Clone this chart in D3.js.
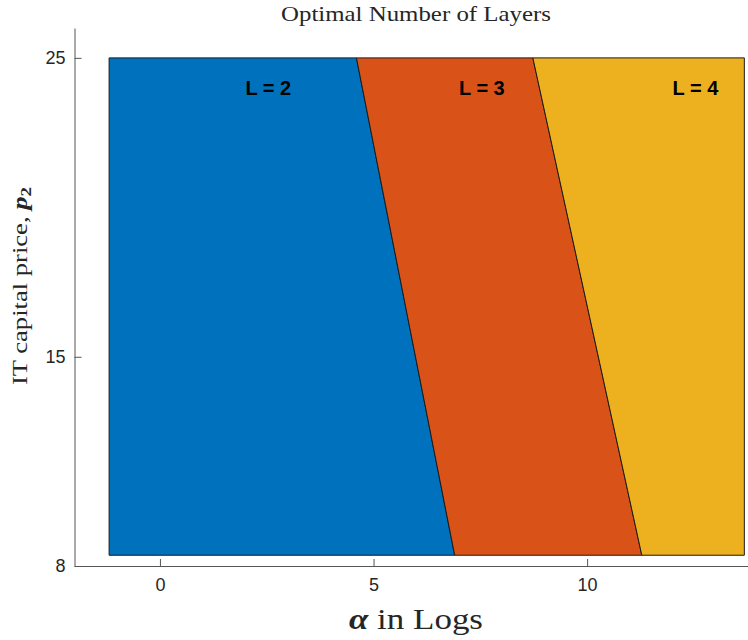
<!DOCTYPE html>
<html>
<head>
<meta charset="utf-8">
<script src="https://cdn.jsdelivr.net/npm/d3@7"></script>
<style>
  body { margin: 0; background: #fff; }
  .tick text { font-family: "Liberation Sans", Arial, sans-serif; font-size: 18px; fill: #262626; }
  .serif { font-family: "Liberation Serif", "Times New Roman", serif; fill: #262626; }
</style>
</head>
<body>
<svg id="board" width="748" height="640"></svg>
<script>
// regions of optimal layer count
let regionLabels = ['L = 2', 'L = 3', 'L = 4']
let regionColors = ['#0072BD', '#D95319', '#EDB120']

// grid extent (alpha in logs, price p2)
let alphaRange = [-1.19, 13.68]
let priceRange = [8.36, 25]

// boundaries between regions: alpha at top (p2 = 25) and bottom (p2 = 8.36)
let boundaryTop = [4.6, 8.73]
let boundaryBottom = [6.9, 11.28]

// label anchors
let labelAlpha = [2, 7, 12]
let labelPrice = 24

let xTicks = [0, 5, 10]
let yTicks = [8, 15, 25]

let board = d3.select('#board')

let x = d3.scaleLinear().domain([-2, 14]).range([74.5, 758])
let y = d3.scaleLinear().domain([8, 26]).range([566, 28])

// build region polygons from the boundary lists
let lefts = [[alphaRange[0], alphaRange[0]]].concat(boundaryTop.map((t, i) => [t, boundaryBottom[i]]))
let rights = boundaryTop.map((t, i) => [t, boundaryBottom[i]]).concat([[alphaRange[1], alphaRange[1]]])

let regions = regionLabels.map((label, i) => {
    return [
        [lefts[i][1], priceRange[0]],
        [lefts[i][0], priceRange[1]],
        [rights[i][0], priceRange[1]],
        [rights[i][1], priceRange[0]]
    ]
})

board.selectAll('polygon.region')
    .data(regions)
    .enter()
    .append('polygon')
    .attr('class', 'region')
    .attr('points', (d) => d.map((p) => x(p[0]) + ',' + y(p[1])).join(' '))
    .attr('fill', (d, i) => regionColors[i])
    .attr('stroke', '#1a1a1a')
    .attr('stroke-width', 1)

board.selectAll('text.label')
    .data(regionLabels)
    .enter()
    .append('text')
    .attr('class', 'label')
    .attr('x', (d, i) => x(labelAlpha[i]))
    .attr('y', y(labelPrice))
    .attr('dy', '0.36em')
    .style('font-family', '"Liberation Sans", Arial, sans-serif')
    .style('font-weight', 'bold')
    .style('font-size', '20px')
    .text((d) => d)

// axes with inward ticks
let xAxis = d3.axisBottom(x).tickValues(xTicks).tickSizeInner(-7).tickSizeOuter(0).tickPadding(12)
let yAxis = d3.axisLeft(y).tickValues(yTicks).tickSizeInner(-7).tickSizeOuter(0).tickPadding(9)

let gx = board.append('g').attr('transform', 'translate(0,566)').call(xAxis)
let gy = board.append('g').attr('transform', 'translate(74.5,0)').call(yAxis)

board.selectAll('.domain').attr('stroke', '#555').attr('stroke-width', 1)
board.selectAll('.tick line').attr('stroke', '#555')

// title and axis labels
board.append('text')
    .attr('class', 'serif')
    .attr('x', 416)
    .attr('y', 21)
    .attr('text-anchor', 'middle')
    .attr('textLength', 270)
    .attr('lengthAdjust', 'spacingAndGlyphs')
    .style('font-size', '21px')
    .text('Optimal Number of Layers')

let xl = board.append('text')
    .attr('class', 'serif')
    .attr('x', 416)
    .attr('y', 629)
    .attr('text-anchor', 'middle')
    .attr('textLength', 134)
    .attr('lengthAdjust', 'spacingAndGlyphs')
    .style('font-size', '29px')
xl.append('tspan').style('font-style', 'italic').style('font-weight', 'bold').text('α')
xl.append('tspan').text(' in Logs')

let yl = board.append('text')
    .attr('class', 'serif')
    .attr('transform', 'translate(27,286) rotate(-90)')
    .attr('text-anchor', 'middle')
    .attr('textLength', 198)
    .attr('lengthAdjust', 'spacingAndGlyphs')
    .style('font-size', '21px')
yl.append('tspan').text('IT capital price, ')
yl.append('tspan').style('font-style', 'italic').style('font-weight', 'bold').text('p')
yl.append('tspan').attr('dy', 4).style('font-size', '15px').style('font-weight', 'bold').text('2')
</script>
</body>
</html>
